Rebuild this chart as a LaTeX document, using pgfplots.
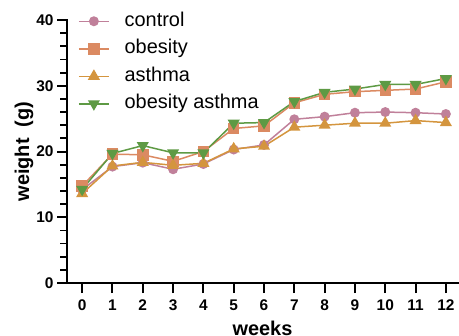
\documentclass[border=0pt]{standalone}
\usepackage{pgfplots}
\pgfplotsset{compat=1.18}
\usepackage{fontspec}
\setmainfont{Liberation Sans}
\definecolor{cctrl}{HTML}{C0809A}
\definecolor{cob}{HTML}{DB8A62}
\definecolor{cas}{HTML}{D4953E}
\definecolor{coa}{HTML}{5E9A44}
\begin{document}
\begin{tikzpicture}
\begin{axis}[name=ax,
  scale only axis, width=391bp, height=263bp,
  xmin=-0.5, xmax=12.4, ymin=0, ymax=40,
  axis x line*=bottom, axis y line*=left,
  axis line style={line width=2.4bp, line cap=rect},
  xtick={0,...,12}, ytick={0,10,20,30,40},
  minor ytick={2,4,6,8,12,14,16,18,22,24,26,28,32,34,36,38},
  tick align=outside,
  tick pos=left,
  major tick length=10bp, minor tick length=7bp,
  every tick/.append style={black, line width=2bp},
  every minor tick/.append style={black, line width=1.8bp},
  /pgf/number format/assume math mode=true,
  ticklabel style={font=\fontsize{15.5}{15.5}\selectfont\bfseries},
  xticklabel style={yshift=-3bp},
  xlabel={weeks}, ylabel={weight~~(g)},
  every axis x label/.style={at={(rel axis cs:0.5,0)}, anchor=base, yshift=-52bp,
    font=\fontsize{20}{20}\selectfont\bfseries},
  every axis y label/.style={at={(rel axis cs:0,0.5)}, xshift=-43bp, rotate=90, anchor=center,
    font=\fontsize{20}{20}\selectfont\bfseries},
  legend style={draw=none, fill=none, at={(0.028,1.034)}, anchor=north west,
    font=\fontsize{20}{20}\selectfont, row sep=7.5bp, inner sep=0pt,
    nodes={inner sep=0pt, text height=15bp, text depth=5bp},
    /tikz/every odd column/.style={column sep=15bp}},
  legend cell align=left,
  legend image code/.code={\draw[mark repeat=2,mark phase=2] plot coordinates {(0bp,0bp) (15bp,0bp) (30bp,0bp)};},
  every axis plot/.append style={line width=1.5bp},
]
\addplot[color=cctrl, mark=*, mark size=4.2bp, mark options={solid}] coordinates {
(0,14.2) (1,17.7) (2,18.3) (3,17.3) (4,18.1) (5,20.3) (6,21.0) (7,24.9) (8,25.3) (9,25.9) (10,26.0) (11,25.9) (12,25.7)};
\addlegendentry{control}
\addplot[color=cob, mark=square*, mark size=5bp] coordinates {
(0,14.75) (1,19.6) (2,19.5) (3,18.5) (4,20.0) (5,23.5) (6,23.9) (7,27.4) (8,28.7) (9,29.1) (10,29.3) (11,29.5) (12,30.6)};
\addlegendentry{obesity}
\addplot[color=cas, mark=triangle*, mark size=5.5bp] coordinates {
(0,13.6) (1,17.8) (2,18.35) (3,17.9) (4,18.2) (5,20.4) (6,20.8) (7,23.7) (8,24.0) (9,24.3) (10,24.3) (11,24.7) (12,24.4)};
\addlegendentry{asthma}
\addplot[color=coa, mark=triangle*, mark size=5.5bp, mark options={rotate=180}] coordinates {
(0,14.25) (1,19.7) (2,20.9) (3,19.8) (4,19.8) (5,24.3) (6,24.4) (7,27.6) (8,29.0) (9,29.5) (10,30.2) (11,30.2) (12,31.1)};
\addlegendentry{obesity asthma}
\end{axis}
\draw[black, line width=2.6bp] ([yshift=-1.2bp]ax.south west) -- ([yshift=1bp]ax.north west);
\pgfresetboundingbox
\path (ax.south west) ++(-67bp,-53bp) rectangle ++(459bp,336bp);
\end{tikzpicture}
\end{document}
